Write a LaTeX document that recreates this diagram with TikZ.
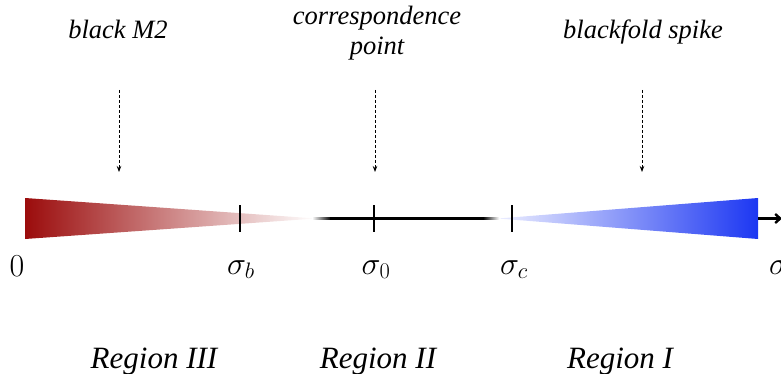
\RequirePackage{fix-cm}
\documentclass[tikz,border=0pt]{standalone}
\usepackage[no-math]{fontspec}
\newfontfamily\labfont{Liberation Serif}
\usetikzlibrary{arrows.meta}
\definecolor{darkred}{RGB}{155,12,12}
\definecolor{strongblue}{RGB}{28,55,242}
\definecolor{paleblue}{RGB}{236,238,255}
\begin{document}
\begin{tikzpicture}[x=1pt,y=-1pt,
  toplab/.style={font=\labfont\itshape\fontsize{26.5}{30}\selectfont, inner sep=0pt, anchor=base},
  reglab/.style={font=\labfont\itshape\fontsize{31}{36}\selectfont, inner sep=0pt, anchor=base},
  mlab/.style={font=\fontsize{32}{36}\selectfont, inner sep=0pt, anchor=base},
  tickmark/.style={line width=2.4pt},
  ptr/.style={densely dashed, line width=0.8pt, -{Stealth[length=6pt,width=4.5pt]}}]
\useasboundingbox (0,0) rectangle (781,374);
% wedges
\shade[left color=darkred, right color=white] (25,198) -- (316,218.5) -- (25,239) -- cycle;
\shade[left color=paleblue, right color=strongblue] (498,218.5) -- (758,198) -- (758,239) -- cycle;
% axis line with faded ends
\shade[left color=white, right color=black] (312,217.2) rectangle (331,219.8);
\fill[black] (330,217.2) rectangle (484,219.8);
\shade[left color=black, right color=white] (483,217.2) rectangle (499,219.8);
\coordinate (ax0) at (758,218.5);
\coordinate (ax1) at (782,218.5);
\draw[line width=2.4pt, -{Straight Barb[length=5pt,width=9pt]}] (ax0) -- (ax1);
% ticks
\coordinate (tb1) at (240,205); \coordinate (tb2) at (240,232);
\coordinate (t01) at (374,205); \coordinate (t02) at (374,232);
\coordinate (tc1) at (512,205); \coordinate (tc2) at (512,232);
\draw[tickmark] (tb1) -- (tb2);
\draw[tickmark] (t01) -- (t02);
\draw[tickmark] (tc1) -- (tc2);
% axis labels
\node[mlab] (zero) at (17,276) {$0$};
\node[mlab] (sb) at (241,274) {$\sigma_b$};
\node[mlab] (s0) at (376,274) {$\sigma_0$};
\node[mlab] (sc) at (514,274) {$\sigma_c$};
\node[mlab, anchor=base west] (sinf) at (769,274) {$\sigma$};
% top labels
\node[toplab] (m2) at (118,39) {black M2};
\node[toplab] (cp) at (377,25) {correspondence};
\node[toplab] (cp2) at (377,55) {point};
\node[toplab] (bs) at (643,39) {blackfold spike};
\coordinate (p1s) at (119,90); \coordinate (p1e) at (119,172);
\coordinate (p2s) at (375,90); \coordinate (p2e) at (375,172);
\coordinate (p3s) at (642,90); \coordinate (p3e) at (642,172);
\draw[ptr] (p1s) -- (p1e);
\draw[ptr] (p2s) -- (p2e);
\draw[ptr] (p3s) -- (p3e);
% regions
\node[reglab] (r3) at (154,368) {Region III};
\node[reglab] (r2) at (378,368) {Region II};
\node[reglab] (r1) at (620,368) {Region I};
\end{tikzpicture}
\end{document}
